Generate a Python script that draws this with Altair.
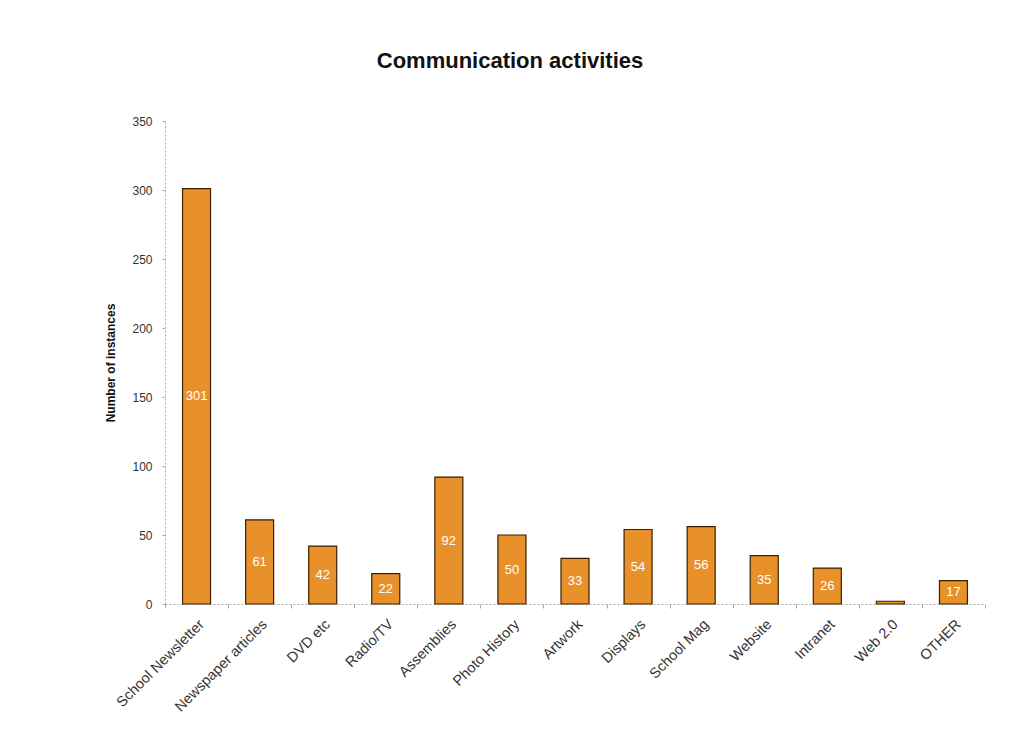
import altair as alt
import pandas as pd

categories = ["School Newsletter", "Newspaper articles", "DVD etc", "Radio/TV", "Assemblies",
              "Photo History", "Artwork", "Displays", "School Mag", "Website", "Intranet",
              "Web 2.0", "OTHER"]
values = [301, 61, 42, 22, 92, 50, 33, 54, 56, 35, 26, 2, 17]
labels = ["301", "61", "42", "22", "92", "50", "33", "54", "56", "35", "26", "", "17"]

df = pd.DataFrame({"cat": categories, "val": values, "lab": labels})

x = alt.X("cat:N", sort=categories, title=None,
          scale=alt.Scale(paddingInner=0.0, paddingOuter=0.0),
          axis=alt.Axis(labelAngle=-45, labelFontSize=14.5, labelColor="#333333",
                        labelFont="Liberation Sans", labelPadding=9,
                        tickBand="extent", tickSize=4, tickColor="#aaaaaa",
                        domainColor="#aaaaaa", domainDash=[2, 2]))

bars = alt.Chart(df).mark_bar(size=28, color="#E8912A", stroke="#3a2000", strokeWidth=1.2).encode(
    x=x,
    y=alt.Y("val:Q", title="Number of instances",
            scale=alt.Scale(domain=[0, 350]),
            axis=alt.Axis(values=list(range(0, 351, 50)), grid=False,
                          labelFontSize=12, labelColor="#333333", labelFont="Liberation Sans",
                          labelPadding=10, tickSize=3, tickColor="#aaaaaa",
                          domainColor="#aaaaaa", domainDash=[2, 2],
                          titleFont="Liberation Sans", titleFontSize=12, titleFontWeight="bold",
                          titleColor="#111111", titlePadding=14))
)

text = alt.Chart(df).transform_calculate(mid="datum.val / 2").mark_text(
    color="white", fontSize=13, font="Liberation Sans", baseline="middle"
).encode(x=alt.X("cat:N", sort=categories), y=alt.Y("mid:Q"), text="lab:N")

chart = (bars + text).properties(
    width=820, height=483,
    title=alt.TitleParams("Communication activities", fontSize=22, font="Liberation Sans",
                          fontWeight="bold", color="#111111", anchor="middle", dx=-65, offset=42),
    autosize=alt.AutoSizeParams(type="none"),
    padding={"left": 157, "top": 113, "right": 17, "bottom": 130},
).configure(background="white").configure_view(stroke=None)

chart.save("out.html", embed_options={"renderer": "svg", "actions": False})
